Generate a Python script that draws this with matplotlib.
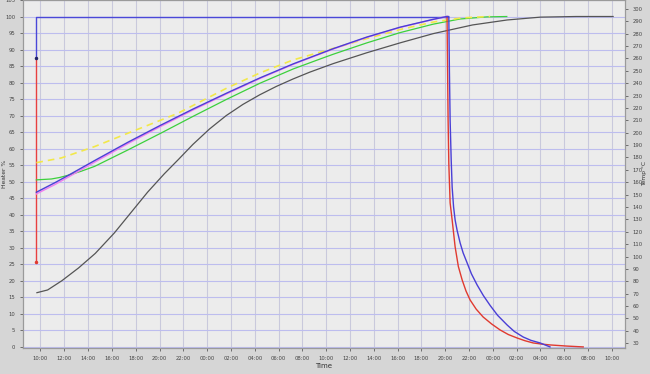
import matplotlib
matplotlib.use("Agg")
import matplotlib.pyplot as plt
import numpy as np

# time axis: hours after 10:00 on day 1
tick_hours = list(range(0, 50, 2))
tick_labels = ["10:00", "12:00", "14:00", "16:00", "18:00", "20:00", "22:00", "00:00",
               "02:00", "04:00", "06:00", "08:00", "10:00", "12:00", "14:00", "16:00",
               "18:00", "20:00", "22:00", "00:00", "02:00", "04:00", "06:00", "08:00", "10:00"]

# heater % (left axis)
heat_blue_t = [-0.35, -0.35, 34.2]
heat_blue_v = [87.5, 100, 100]
heat_red_t = [-0.35, -0.35]
heat_red_v = [25.5, 87.5]

# temperatures (right axis)
gray_t = [-0.3, 0.6, 1.8, 3.2, 4.6, 6.2, 7.6, 9.0, 10.4, 11.6, 12.8, 14.2, 15.6, 17.0,
          18.4, 19.8, 21.2, 22.6, 24.6, 27.4, 30.2, 33.0, 36.3, 39.2, 42.0, 45.0, 48.1]
gray_v = [70.8, 73.0, 80.5, 90.8, 102.5, 119.0, 135.5, 152.0, 166.8, 178.5, 190.5, 203.0,
          213.8, 222.8, 230.5, 237.3, 243.3, 248.8, 255.8, 264.5, 272.5, 280.0, 287.0,
          291.0, 293.3, 293.8, 293.8]

yellow_t = [-0.35, 1.75, 4.55, 7.35, 10.15, 11.55, 15.65, 18.45, 21.24, 24.58, 27.41,
            30.21, 32.98, 35.25, 36.34, 37.77]
yellow_v = [175.8, 179.6, 188.8, 199.6, 210.3, 215.7, 236.0, 248.3, 258.8, 268.0, 276.0,
            283.3, 289.3, 292.5, 293.2, 293.8]

green_t = [-0.35, 0.91, 1.6, 2.31, 3.4, 4.55, 7.35, 10.15, 12.84, 15.65, 18.45, 21.24,
           23.49, 24.58, 27.41, 30.21, 32.98, 35.25, 37.5, 39.17]
green_v = [161.9, 162.6, 163.8, 165.6, 168.8, 172.8, 186.1, 199.8, 213.3, 227.0, 240.0,
           251.5, 259.5, 263.3, 272.5, 280.8, 287.6, 291.8, 293.5, 293.8]

pink_t = [-0.35, 1.19, 2.31, 4.55, 7.35, 10.15, 12.84, 15.65, 18.45, 21.24, 24.58, 27.41,
          30.21, 32.98, 34.13]
pink_v = [150.5, 158.0, 164.0, 176.2, 191.2, 205.3, 218.4, 231.4, 243.8, 255.2, 267.5,
          276.9, 285.0, 291.4, 293.8]

blue_t = [-0.35, 1.19, 2.31, 4.55, 7.35, 10.15, 12.84, 15.65, 18.45, 21.24, 24.58, 27.41,
          30.21, 32.98, 34.13, 34.3, 34.35, 34.41, 34.5, 34.58, 34.7, 34.83, 35.0, 35.25,
          35.5, 35.84, 36.2, 36.68, 37.2, 37.77, 38.4, 39.2, 39.8, 40.55, 41.2, 41.97, 42.8]
blue_v = [151.9, 159.5, 165.4, 177.5, 192.3, 206.3, 219.2, 232.0, 244.3, 255.6, 267.8,
          277.2, 285.2, 291.5, 293.8, 293.8, 250.0, 210.0, 178.0, 156.0, 140.0, 129.5,
          121.0, 111.0, 103.0, 94.8, 86.0, 77.0, 68.5, 60.5, 52.5, 44.7, 39.5, 35.0, 32.3,
          30.2, 27.0]

red_t = [34.15, 34.24, 34.3, 34.41, 34.58, 34.83, 35.1, 35.42, 35.75, 36.09, 36.6, 37.18,
         37.9, 38.61, 39.3, 40.04, 40.7, 41.39, 42.1, 42.82, 44.2, 45.59]
red_v = [293.8, 210.0, 175.0, 143.3, 129.5, 107.8, 92.0, 81.1, 72.0, 64.9, 57.5, 51.2,
         45.5, 40.7, 37.0, 34.2, 32.0, 30.2, 29.3, 28.6, 27.7, 27.0]

fig = plt.figure(figsize=(6.5, 3.74), dpi=100, facecolor="#d6d6d6")
ax = fig.add_axes([23 / 650, 26 / 374, 602 / 650, 348 / 374])
ax.set_facecolor("#ececec")
ax2 = ax.twinx()

ax.set_xlim(-1.47, 49.1)
ax.set_ylim(-0.4, 105)
ax2.set_ylim(27.2 - 0.4 * 2.666, 27.2 + 105 * 2.666)

ax.set_yticks(np.arange(0, 106, 5))
ax2.set_yticks(np.arange(30, 301, 10))
ax.set_xticks(tick_hours)
ax.set_xticklabels(tick_labels)

ax.grid(axis="y", color="#bdbdee", lw=0.8)
ax.grid(axis="x", color="#c9c9dc", lw=0.8)
ax.set_axisbelow(True)

for a in (ax, ax2):
    a.tick_params(labelsize=3.8, colors="#444444", length=2, width=0.5)
    for s in a.spines.values():
        s.set_color("#9a9a9a")
        s.set_linewidth(0.8)

ax.set_ylabel("Heater %", fontsize=4.3, color="#333333")
ax.yaxis.set_label_coords(-0.027, 0.5)
ax2.set_ylabel("Temp °C", fontsize=4.3, color="#333333")
ax2.yaxis.set_label_coords(1.028, 0.5)
ax.set_xlabel("Time", fontsize=5, color="#333333", labelpad=2)

# temperatures
ax2.plot(gray_t, gray_v, color="#555555", lw=0.9)
ax2.plot(green_t, green_v, color="#3cd03c", lw=0.9)
ax2.plot(yellow_t, yellow_v, color="#f2e84a", lw=1.2, ls=(0, (4, 3)))
ax2.plot(pink_t, pink_v, color="#f07ef0", lw=1.0)
ax2.plot(red_t, red_v, color="#e03a30", lw=1.0)
ax2.plot(blue_t, blue_v, color="#4a3fd6", lw=1.0)

# heater
ax.plot(heat_red_t, heat_red_v, color="#e84040", lw=1.0)
ax.plot(heat_blue_t, heat_blue_v, color="#4a48d8", lw=1.0)
ax.plot(heat_red_t[:1], heat_red_v[:1], "o", color="#e03a30", ms=1.5)
ax.plot(heat_blue_t[:1], heat_blue_v[:1], "o", color="#222266", ms=1.5)

fig.savefig("out.png", dpi=100, facecolor=fig.get_facecolor())
